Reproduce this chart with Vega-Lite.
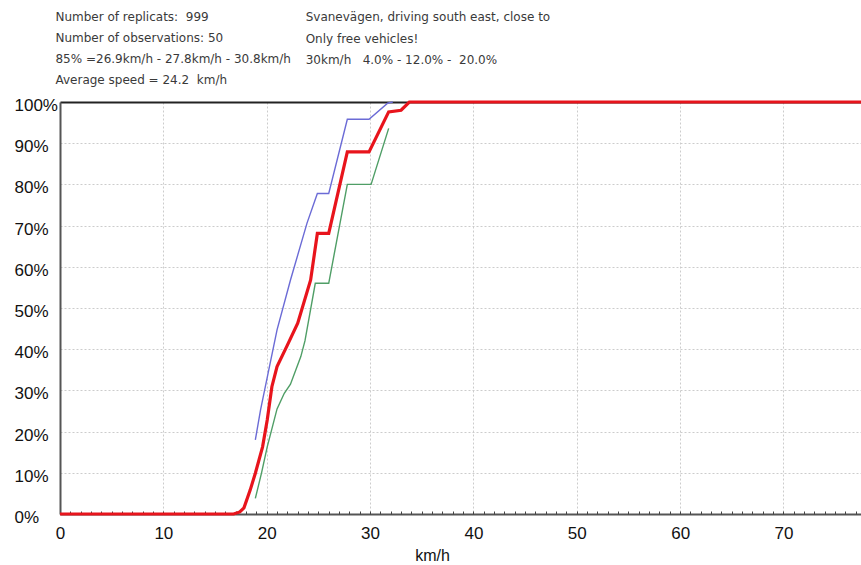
{
  "$schema": "https://vega.github.io/schema/vega-lite/v6.json",
  "width": 801,
  "height": 412,
  "autosize": {"type": "none"},
  "padding": {"left": 60, "top": 102, "right": 0, "bottom": 51},
  "background": "white",
  "config": {
    "view": {"stroke": null},
    "font": "Liberation Sans"
  },
  "datasets": {
    "curves": [
      {"series": "green", "kmh": 18.9, "pct": 3.8},
      {"series": "green", "kmh": 19.5, "pct": 10},
      {"series": "green", "kmh": 20.05, "pct": 16.3},
      {"series": "green", "kmh": 21.0, "pct": 25.5},
      {"series": "green", "kmh": 21.7, "pct": 29.3},
      {"series": "green", "kmh": 22.3, "pct": 31.5},
      {"series": "green", "kmh": 23.3, "pct": 38.2},
      {"series": "green", "kmh": 23.7, "pct": 42},
      {"series": "green", "kmh": 24.7, "pct": 56},
      {"series": "green", "kmh": 26.0, "pct": 56},
      {"series": "green", "kmh": 27.8, "pct": 80},
      {"series": "green", "kmh": 30.1, "pct": 80},
      {"series": "green", "kmh": 31.8, "pct": 93.6},
      {"series": "blue", "kmh": 18.9, "pct": 18},
      {"series": "blue", "kmh": 19.4, "pct": 25.2},
      {"series": "blue", "kmh": 20.2, "pct": 35},
      {"series": "blue", "kmh": 21.0, "pct": 44.7},
      {"series": "blue", "kmh": 22.3, "pct": 56.8},
      {"series": "blue", "kmh": 23.9, "pct": 70.6},
      {"series": "blue", "kmh": 24.9, "pct": 77.8},
      {"series": "blue", "kmh": 26.0, "pct": 77.8},
      {"series": "blue", "kmh": 27.8, "pct": 95.8},
      {"series": "blue", "kmh": 29.9, "pct": 95.8},
      {"series": "blue", "kmh": 31.7, "pct": 99.7},
      {"series": "blue", "kmh": 32.2, "pct": 100},
      {"series": "red", "kmh": 0, "pct": 0},
      {"series": "red", "kmh": 16.8, "pct": 0},
      {"series": "red", "kmh": 17.4, "pct": 0.5},
      {"series": "red", "kmh": 17.8, "pct": 1.5},
      {"series": "red", "kmh": 18.4, "pct": 5.8},
      {"series": "red", "kmh": 18.9, "pct": 9.9},
      {"series": "red", "kmh": 19.6, "pct": 16.3},
      {"series": "red", "kmh": 20.05, "pct": 22.8},
      {"series": "red", "kmh": 20.5, "pct": 30.9},
      {"series": "red", "kmh": 21.0, "pct": 35.8},
      {"series": "red", "kmh": 22.0, "pct": 41},
      {"series": "red", "kmh": 23.0, "pct": 46.3},
      {"series": "red", "kmh": 24.25, "pct": 56.8},
      {"series": "red", "kmh": 24.9, "pct": 68.1},
      {"series": "red", "kmh": 26.0, "pct": 68.1},
      {"series": "red", "kmh": 27.8, "pct": 87.9},
      {"series": "red", "kmh": 29.9, "pct": 87.9},
      {"series": "red", "kmh": 31.8, "pct": 97.6},
      {"series": "red", "kmh": 33.0, "pct": 98},
      {"series": "red", "kmh": 33.8, "pct": 100},
      {"series": "red", "kmh": 77.5, "pct": 100}
    ],
    "header": [
      {"col": "left", "lines": ["Number of replicats:\u00a0\u00a0999", "Number of observations: 50", "85% =26.9km/h - 27.8km/h - 30.8km/h", "Average speed = 24.2\u00a0\u00a0km/h"]},
      {"col": "right", "lines": ["Svanevägen, driving south east, close to", "Only free vehicles!", "30km/h\u00a0\u00a0\u00a04.0% - 12.0% -\u00a0\u00a020.0%"]}
    ]
  },
  "layer": [
    {
      "data": {"name": "curves"},
      "transform": [{"filter": "datum.series === 'green'"}],
      "mark": {"type": "line", "color": "#4f9e66", "strokeWidth": 1.4},
      "encoding": {
        "x": {
          "field": "kmh", "type": "quantitative",
          "scale": {"domain": [0, 77.5], "nice": false, "zero": false},
          "axis": {
            "orient": "bottom",
            "values": [0, 10, 20, 30, 40, 50, 60, 70],
            "format": "d",
            "labelFlush": false,
            "labelPadding": 11,
            "labelFont": "Liberation Sans",
            "labelFontSize": 17,
            "labelColor": "#111111",
            "ticks": false,
            "domain": true,
            "domainColor": "#555555",
            "domainWidth": 2,
            "grid": true,
            "gridColor": "#cccccc",
            "gridDash": [2, 2],
            "gridWidth": 1,
            "title": "km/h",
            "titleFont": "Liberation Sans",
            "titleFontSize": 16,
            "titleFontWeight": "normal",
            "titleColor": "#111111",
            "titleX": 372,
            "titleY": 41,
            "titleBaseline": "middle",
            "titleAlign": "center"
          }
        },
        "y": {
          "field": "pct", "type": "quantitative",
          "scale": {"domain": [0, 100], "nice": false},
          "axis": {
            "orient": "left",
            "values": [0, 10, 20, 30, 40, 50, 60, 70, 80, 90, 100],
            "labelExpr": "datum.value + '%'",
            "ticks": false,
            "domain": true,
            "domainColor": "#555555",
            "domainWidth": 2,
            "grid": true,
            "gridColor": {"condition": {"test": "datum.value === 100", "value": "#222222"}, "value": "#cccccc"},
            "gridDash": {"condition": {"test": "datum.value === 100", "value": []}, "value": [2, 2]},
            "gridWidth": {"condition": {"test": "datum.value === 100", "value": 2}, "value": 1},
            "labelAlign": "left",
            "labelPadding": 46,
            "labelOffset": 3.5,
            "labelBaseline": "middle",
            "labelFont": "Liberation Sans",
            "labelFontSize": 17,
            "labelColor": "#111111",
            "title": null
          }
        }
      }
    },
    {
      "data": {"name": "curves"},
      "transform": [{"filter": "datum.series === 'blue'"}],
      "mark": {"type": "line", "color": "#6b6bd6", "strokeWidth": 1.4},
      "encoding": {
        "x": {"field": "kmh", "type": "quantitative", "scale": {"domain": [0, 77.5], "nice": false, "zero": false}, "axis": null},
        "y": {
          "field": "pct", "type": "quantitative",
          "scale": {"domain": [0, 100], "nice": false},
          "axis": {
            "orient": "left",
            "values": [0, 10, 20, 30, 40, 50, 60, 70, 80, 90, 100],
            "labelExpr": "datum.value + '%'",
            "ticks": false,
            "domain": true,
            "domainColor": "#555555",
            "domainWidth": 2,
            "grid": true,
            "gridColor": {"condition": {"test": "datum.value === 100", "value": "#222222"}, "value": "#cccccc"},
            "gridDash": {"condition": {"test": "datum.value === 100", "value": []}, "value": [2, 2]},
            "gridWidth": {"condition": {"test": "datum.value === 100", "value": 2}, "value": 1},
            "labelAlign": "left",
            "labelPadding": 46,
            "labelOffset": 3.5,
            "labelBaseline": "middle",
            "labelFont": "Liberation Sans",
            "labelFontSize": 17,
            "labelColor": "#111111",
            "title": null
          }
        }
      }
    },
    {
      "data": {"name": "curves"},
      "transform": [{"filter": "datum.series === 'red'"}],
      "mark": {"type": "line", "color": "#e8141c", "strokeWidth": 3.2},
      "encoding": {
        "x": {"field": "kmh", "type": "quantitative", "scale": {"domain": [0, 77.5], "nice": false, "zero": false}, "axis": null},
        "y": {
          "field": "pct", "type": "quantitative",
          "scale": {"domain": [0, 100], "nice": false},
          "axis": {
            "orient": "left",
            "values": [0, 10, 20, 30, 40, 50, 60, 70, 80, 90, 100],
            "labelExpr": "datum.value + '%'",
            "ticks": false,
            "domain": true,
            "domainColor": "#555555",
            "domainWidth": 2,
            "grid": true,
            "gridColor": {"condition": {"test": "datum.value === 100", "value": "#222222"}, "value": "#cccccc"},
            "gridDash": {"condition": {"test": "datum.value === 100", "value": []}, "value": [2, 2]},
            "gridWidth": {"condition": {"test": "datum.value === 100", "value": 2}, "value": 1},
            "labelAlign": "left",
            "labelPadding": 46,
            "labelOffset": 3.5,
            "labelBaseline": "middle",
            "labelFont": "Liberation Sans",
            "labelFontSize": 17,
            "labelColor": "#111111",
            "title": null
          }
        }
      }
    },
    {
      "data": {"name": "header"},
      "transform": [{"filter": "datum.col === 'left'"}],
      "mark": {"type": "text", "align": "left", "baseline": "top", "lineHeight": 21, "fontSize": 12, "font": "DejaVu Sans", "color": "#3a3a3a"},
      "encoding": {
        "x": {
          "datum": -0.44, "type": "quantitative",
          "scale": {"domain": [0, 77.5], "nice": false, "zero": false},
          "axis": {
            "orient": "bottom",
            "values": [1,2,3,4,5,6,7,8,9,10,11,12,13,14,15,16,17,18,19,20,21,22,23,24,25,26,27,28,29,30,31,32,33,34,35,36,37,38,39,40,41,42,43,44,45,46,47,48,49,50,51,52,53,54,55,56,57,58,59,60,61,62,63,64,65,66,67,68,69,70,71,72,73,74,75,76,77],
            "labels": false,
            "domain": false,
            "grid": false,
            "ticks": true,
            "tickSize": -3,
            "tickColor": "#444444",
            "tickWidth": 1,
            "title": null
          }
        },
        "y": {
          "datum": 121.8, "type": "quantitative",
          "scale": {"domain": [0, 100], "nice": false},
          "axis": {
            "orient": "left",
            "values": [0, 10, 20, 30, 40, 50, 60, 70, 80, 90, 100],
            "labelExpr": "datum.value + '%'",
            "ticks": false,
            "domain": true,
            "domainColor": "#555555",
            "domainWidth": 2,
            "grid": true,
            "gridColor": {"condition": {"test": "datum.value === 100", "value": "#222222"}, "value": "#cccccc"},
            "gridDash": {"condition": {"test": "datum.value === 100", "value": []}, "value": [2, 2]},
            "gridWidth": {"condition": {"test": "datum.value === 100", "value": 2}, "value": 1},
            "labelAlign": "left",
            "labelPadding": 46,
            "labelOffset": 3.5,
            "labelBaseline": "middle",
            "labelFont": "Liberation Sans",
            "labelFontSize": 17,
            "labelColor": "#111111",
            "title": null
          }
        },
        "text": {"field": "lines"}
      }
    },
    {
      "data": {"name": "header"},
      "transform": [{"filter": "datum.col === 'right'"}],
      "mark": {"type": "text", "align": "left", "baseline": "top", "lineHeight": 21.5, "fontSize": 12, "font": "DejaVu Sans", "color": "#3a3a3a"},
      "encoding": {
        "x": {"datum": 23.77, "type": "quantitative", "scale": {"domain": [0, 77.5], "nice": false, "zero": false}, "axis": null},
        "y": {
          "datum": 121.8, "type": "quantitative",
          "scale": {"domain": [0, 100], "nice": false},
          "axis": {
            "orient": "left",
            "values": [0, 10, 20, 30, 40, 50, 60, 70, 80, 90, 100],
            "labelExpr": "datum.value + '%'",
            "ticks": false,
            "domain": true,
            "domainColor": "#555555",
            "domainWidth": 2,
            "grid": true,
            "gridColor": {"condition": {"test": "datum.value === 100", "value": "#222222"}, "value": "#cccccc"},
            "gridDash": {"condition": {"test": "datum.value === 100", "value": []}, "value": [2, 2]},
            "gridWidth": {"condition": {"test": "datum.value === 100", "value": 2}, "value": 1},
            "labelAlign": "left",
            "labelPadding": 46,
            "labelOffset": 3.5,
            "labelBaseline": "middle",
            "labelFont": "Liberation Sans",
            "labelFontSize": 17,
            "labelColor": "#111111",
            "title": null
          }
        },
        "text": {"field": "lines"}
      }
    }
  ],
  "resolve": {"axis": {"x": "independent"}}
}
